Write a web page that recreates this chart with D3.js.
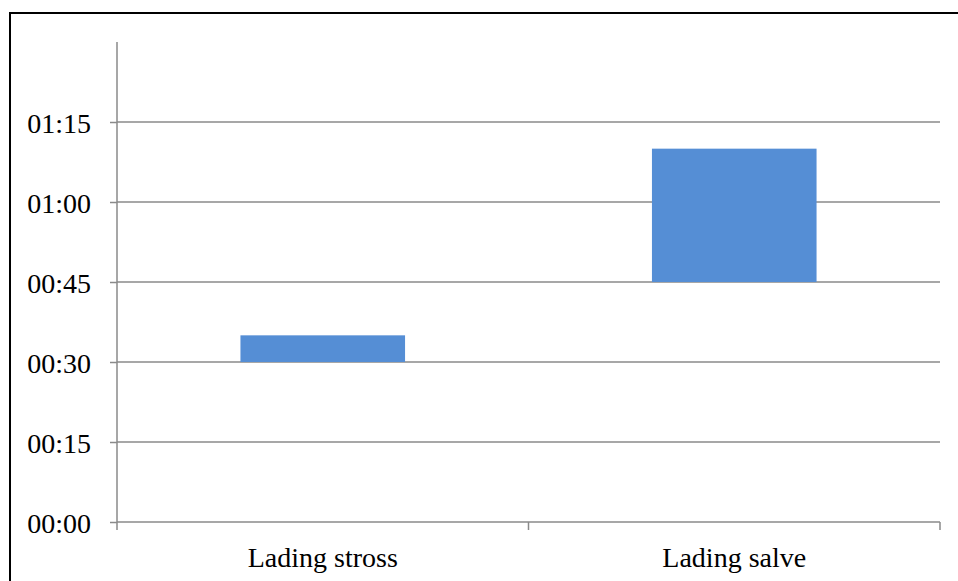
<!DOCTYPE html>
<html>
<head>
<meta charset="utf-8">
<script src="https://cdn.jsdelivr.net/npm/d3@7"></script>
<style>
  html, body { margin: 0; padding: 0; background: #fff; }
  svg { display: block; }
  text { font-family: "Liberation Serif", "Times New Roman", serif; fill: #000; }
</style>
</head>
<body>
<svg id="chart" width="958" height="581"></svg>
<script>
// Loading phases, in minutes from the start
const categories = ["Lading stross", "Lading salve"];
const startMinutes = [30, 45];
const endMinutes = [35, 70];
const tickMinutes = [0, 15, 30, 45, 60, 75];
const axisMaxMinutes = 90;

const fmtTime = m => String(Math.floor(m / 60)).padStart(2, "0") + ":" + String(m % 60).padStart(2, "0");

const svg = d3.select("#chart");

// Outer chart frame (runs off the right and bottom edges)
svg.append("rect")
  .attr("x", 10).attr("y", 13)
  .attr("width", 960).attr("height", 600)
  .attr("fill", "none")
  .attr("stroke", "#000")
  .attr("stroke-width", 2);

const plot = { left: 117, right: 940, top: 42, bottom: 522 };

const x = d3.scaleBand()
  .domain(categories)
  .range([plot.left, plot.right])
  .paddingInner(0.6)
  .paddingOuter(0.3);

const xCat = d3.scaleBand()
  .domain(categories)
  .range([plot.left, plot.right])
  .padding(0);

const y = d3.scaleLinear()
  .domain([0, axisMaxMinutes])
  .range([plot.bottom, plot.top]);

const gridColor = "#8a8a8a";
const fontSize = 28;

// Horizontal gridlines
svg.append("g")
  .selectAll("line")
  .data(tickMinutes.filter(t => t > 0))
  .join("line")
  .attr("x1", plot.left).attr("x2", plot.right)
  .attr("y1", d => y(d)).attr("y2", d => y(d))
  .attr("stroke", gridColor)
  .attr("stroke-width", 1.5);

// Floating bars from start to end
const rows = categories.map((c, i) => ({ c, s: startMinutes[i], e: endMinutes[i] }));
svg.append("g")
  .selectAll("rect")
  .data(rows)
  .join("rect")
  .attr("x", d => x(d.c))
  .attr("width", x.bandwidth())
  .attr("y", d => y(d.e))
  .attr("height", d => y(d.s) - y(d.e))
  .attr("fill", "#558ed5");

// Y axis
const yAxis = d3.axisLeft(y)
  .tickValues(tickMinutes)
  .tickFormat(fmtTime)
  .tickSize(7)
  .tickPadding(19);
const gy = svg.append("g")
  .attr("transform", `translate(${plot.left},0)`)
  .call(yAxis);
gy.select(".domain").remove();
gy.selectAll("line").attr("stroke", gridColor).attr("stroke-width", 1.5);
gy.selectAll("text")
  .attr("font-size", fontSize)
  .attr("font-family", "Liberation Serif, serif")
  .attr("fill", "#000")
  .attr("dy", "0.36em");
svg.append("line")
  .attr("x1", plot.left).attr("x2", plot.left)
  .attr("y1", plot.top).attr("y2", plot.bottom)
  .attr("stroke", gridColor).attr("stroke-width", 1.5);

// X axis with category dividers
const gx = svg.append("g")
  .attr("transform", `translate(0,${plot.bottom})`);
gx.append("line")
  .attr("x1", plot.left).attr("x2", plot.right)
  .attr("stroke", gridColor).attr("stroke-width", 1.5);
const dividers = categories.map(c => xCat(c)).concat([xCat(categories[categories.length - 1]) + xCat.bandwidth()]);
gx.selectAll("line.div")
  .data(dividers)
  .join("line")
  .attr("class", "div")
  .attr("x1", d => d).attr("x2", d => d)
  .attr("y1", 0).attr("y2", 8)
  .attr("stroke", gridColor).attr("stroke-width", 1.5);
gx.selectAll("text")
  .data(categories)
  .join("text")
  .attr("x", d => xCat(d) + xCat.bandwidth() / 2)
  .attr("y", 45)
  .attr("text-anchor", "middle")
  .attr("font-size", fontSize)
  .text(d => d);
</script>
</body>
</html>
